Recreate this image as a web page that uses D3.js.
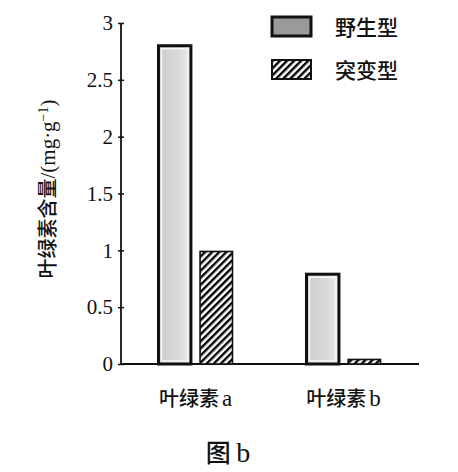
<!DOCTYPE html>
<html>
<head>
<meta charset="utf-8">
<script src="https://cdn.jsdelivr.net/npm/d3@7"></script>
<style>
  body { margin: 0; background: #fff; }
  svg { display: block; }
</style>
</head>
<body>
<div id="chart"></div>
<script>
// data
let categories = ["叶绿素a", "叶绿素b"]
let seriesNames = ["野生型", "突变型"]
let wildValues = [2.80, 0.79]
let mutantValues = [0.99, 0.04]
let yTicks = [0, 0.5, 1, 1.5, 2, 2.5, 3]

let svgWidth = 458
let svgHeight = 472

let svg = d3.select("#chart").append("svg")
    .attr("width", svgWidth)
    .attr("height", svgHeight)

let defs = svg.append("defs")

// gray fill for wild type bars
let grad = defs.append("linearGradient").attr("id", "grayFill")
    .attr("x1", "0%").attr("x2", "100%").attr("y1", "0%").attr("y2", "0%")
grad.append("stop").attr("offset", "0%").attr("stop-color", "#cdcdcd")
grad.append("stop").attr("offset", "60%").attr("stop-color", "#d9d9d9")
grad.append("stop").attr("offset", "100%").attr("stop-color", "#ebebeb")

// diagonal hatch for mutant bars
let hatch = defs.append("pattern").attr("id", "hatch")
    .attr("patternUnits", "userSpaceOnUse")
    .attr("width", 5).attr("height", 5)
    .attr("patternTransform", "rotate(45)")
hatch.append("rect").attr("width", 5).attr("height", 5).attr("fill", "#fff")
hatch.append("rect").attr("x", 0).attr("y", 0).attr("width", 2.4).attr("height", 5)
    .attr("fill", "#000")

let plotLeft = 121, plotRight = 419, plotTop = 23, plotBottom = 364

let y = d3.scaleLinear().domain([0, 3]).range([plotBottom, plotTop])
let x0 = d3.scaleBand().domain(categories).range([120, 419]).paddingInner(0.5).paddingOuter(0.26)
let x1 = d3.scaleBand().domain(seriesNames).range([0, x0.bandwidth()]).paddingInner(0.22)

// y axis
let yAxis = svg.append("g")
    .attr("transform", `translate(${plotLeft},0)`)
    .call(d3.axisLeft(y).tickValues(yTicks).tickSize(4).tickPadding(4)
        .tickFormat(d => d3.format("")(d)))
yAxis.select(".domain").attr("stroke", "#111").attr("stroke-width", 1.8)
    .attr("d", `M0,${plotBottom}V${plotTop}`)
yAxis.selectAll(".tick line").attr("x1", -3).attr("x2", 3)
    .attr("stroke", "#111").attr("stroke-width", 1.5)
yAxis.selectAll(".tick text")
    .attr("font-family", "Liberation Serif, serif")
    .attr("font-size", 21).attr("fill", "#111")

// x axis line
svg.append("line")
    .attr("x1", plotLeft).attr("x2", plotRight)
    .attr("y1", plotBottom).attr("y2", plotBottom)
    .attr("stroke", "#111").attr("stroke-width", 1.8)

// bars
let groups = svg.selectAll(".grp").data(categories).enter().append("g")
    .attr("transform", d => `translate(${x0(d)},0)`)

groups.append("rect")
    .attr("x", x1("野生型"))
    .attr("y", (d, i) => y(wildValues[i]))
    .attr("width", x1.bandwidth())
    .attr("height", (d, i) => plotBottom - y(wildValues[i]))
    .attr("fill", "url(#grayFill)")
    .attr("stroke", "#111").attr("stroke-width", 3)
groups.append("rect")
    .attr("x", x1("野生型") + 3)
    .attr("y", (d, i) => y(wildValues[i]) + 3)
    .attr("width", x1.bandwidth() - 6)
    .attr("height", (d, i) => Math.max(0, plotBottom - y(wildValues[i]) - 6))
    .attr("fill", "none")
    .attr("stroke", "#f6f6f6").attr("stroke-width", 1.5)

groups.append("rect")
    .attr("x", x1("突变型"))
    .attr("y", (d, i) => y(mutantValues[i]))
    .attr("width", x1.bandwidth())
    .attr("height", (d, i) => plotBottom - y(mutantValues[i]))
    .attr("fill", "url(#hatch)")
    .attr("stroke", "#111").attr("stroke-width", 1.6)

// category labels
groups.append("text")
    .attr("x", x0.bandwidth() / 2)
    .attr("y", 406)
    .attr("text-anchor", "middle")
    .attr("font-family", "Noto Sans CJK SC, sans-serif")
    .attr("font-weight", 500)
    .attr("font-size", 20).attr("fill", "#111")
    .text(d => d.slice(0, 3))
    .append("tspan")
    .attr("font-family", "Liberation Serif, serif")
    .attr("font-size", 23)
    .attr("dx", 3)
    .text(d => d.slice(3))

// y label
let yLabel = svg.append("text")
    .attr("transform", "translate(55,189) rotate(-90)")
    .attr("text-anchor", "middle")
    .attr("font-family", "Noto Sans CJK SC, sans-serif")
    .attr("font-weight", 500)
    .attr("font-size", 20).attr("fill", "#111")
yLabel.append("tspan").text("叶绿素含量")
yLabel.append("tspan").attr("font-family", "Liberation Serif, serif").attr("font-size", 21).text("/(mg·g")
yLabel.append("tspan").attr("font-family", "Liberation Serif, serif")
    .attr("font-size", 14).attr("baseline-shift", "super").text("−1")
yLabel.append("tspan").attr("font-family", "Liberation Serif, serif").attr("font-size", 21).text(")")

// legend
let legend = svg.selectAll(".leg").data(seriesNames).enter().append("g")
    .attr("transform", (d, i) => `translate(272,${17 + i * 43})`)
legend.append("rect")
    .attr("width", 39).attr("height", 19)
    .attr("fill", (d, i) => i === 0 ? "#9a9a9a" : "url(#hatch)")
    .attr("stroke", "#111").attr("stroke-width", (d, i) => i === 0 ? 3 : 2)
legend.append("text")
    .attr("x", 63).attr("y", 18)
    .attr("font-family", "Noto Sans CJK SC, sans-serif")
    .attr("font-weight", 500)
    .attr("font-size", 21).attr("fill", "#111")
    .text(d => d)

// caption
let caption = svg.append("text")
    .attr("x", 228).attr("y", 462)
    .attr("text-anchor", "middle")
    .attr("font-family", "Noto Sans CJK SC, sans-serif")
    .attr("font-weight", 500)
    .attr("font-size", 25).attr("fill", "#111")
    .text("图 ")
caption.append("tspan").attr("font-family", "Liberation Serif, serif").attr("font-size", 28).text("b")
</script>
</body>
</html>
